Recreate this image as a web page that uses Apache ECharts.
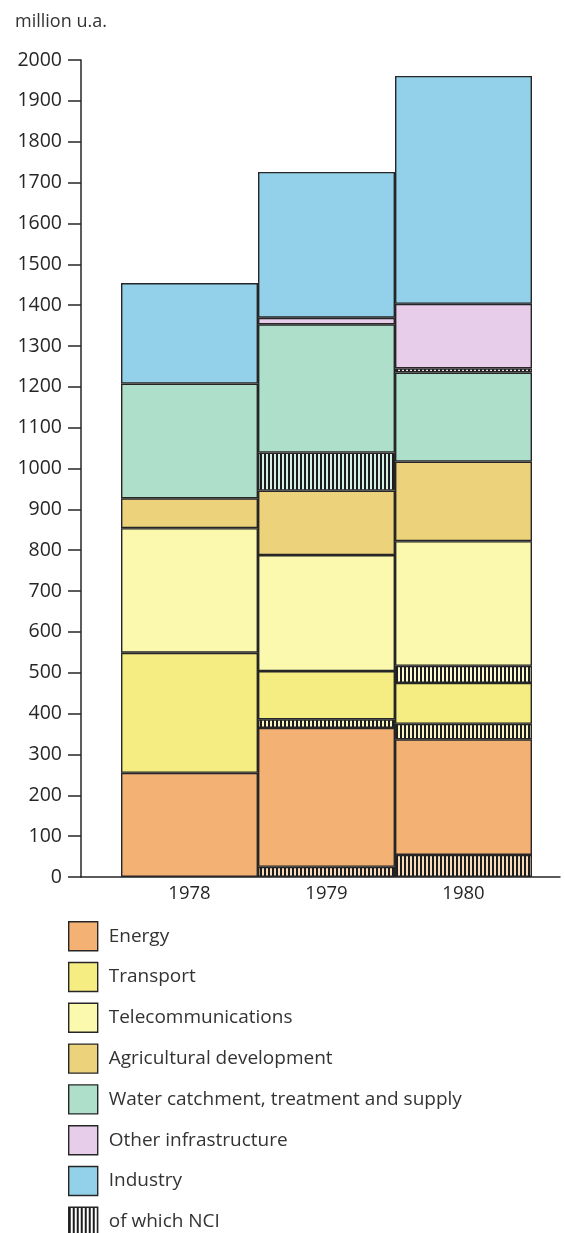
<!DOCTYPE html>
<html>
<head>
<meta charset="utf-8">
<script src="https://cdn.jsdelivr.net/npm/echarts@6/dist/echarts.min.js"></script>
<style>
  html, body { margin: 0; padding: 0; background: #ffffff; }
  #chart { width: 565px; height: 1233px; }
</style>
</head>
<body>
<div id="chart"></div>
<script>
// Lending by sector, million u.a.
const years = ['1978', '1979', '1980'];

const energy      = [255, 365, 337];
const transport   = [294, 139, 138];
const telecom     = [305, 284, 347];
const agriculture = [73, 158, 195];
const water       = [281, 407, 218];
const otherInfra  = [0, 16, 168];
const industry    = [246, 357, 558];

// NCI share of each sector (sits at the bottom of that sector's block)
const energyNCI    = [0, 25, 54];
const transportNCI = [0, 21, 38];
const telecomNCI   = [0, 0, 42];
const waterNCI     = [0, 93, 0];
const otherNCI     = [0, 0, 10];

const yTicks = { min: 0, max: 2000, step: 100 };

const COLORS = {
  energy: '#f3b274',
  transport: '#f5ed82',
  telecom: '#fbf9ae',
  agriculture: '#ecd27a',
  water: '#aedfcb',
  other: '#e7cdea',
  industry: '#93d0ea'
};
const INK = '#262626';
const FONT = '"Open Sans", "Liberation Sans", sans-serif';

function stripes(gap) {
  const c = document.createElement('canvas');
  c.width = 4; c.height = 4;
  const g = c.getContext('2d');
  g.fillStyle = gap; g.fillRect(0, 0, 4, 4);
  g.fillStyle = '#1c1c1c'; g.fillRect(0, 0, 2, 4);
  return { image: c, repeat: 'repeat' };
}

const blank = v => (v > 0 ? v : '-');
const minus = (a, b) => a.map((v, i) => blank(v - b[i]));

const NCI = 'of which NCI';
const border = { borderColor: INK, borderWidth: 1.4 };

function bar(name, data, color) {
  return {
    name, type: 'bar', stack: 'total', data,
    xAxisIndex: 0, yAxisIndex: 0,
    barWidth: '100%',
    itemStyle: Object.assign({ color }, border),
    emphasis: { disabled: true }
  };
}

const series = [
  bar(NCI, energyNCI.map(blank), stripes('#f8dcbc')),
  bar('Energy', minus(energy, energyNCI), COLORS.energy),
  bar(NCI, transportNCI.map(blank), stripes('#faf5c6')),
  bar('Transport', minus(transport, transportNCI), COLORS.transport),
  bar(NCI, telecomNCI.map(blank), stripes('#fcfad2')),
  bar('Telecommunications', minus(telecom, telecomNCI), COLORS.telecom),
  bar('Agricultural development', agriculture.map(blank), COLORS.agriculture),
  bar(NCI, waterNCI.map(blank), stripes('#d6efe6')),
  bar('Water catchment, treatment and supply', minus(water, waterNCI), COLORS.water),
  bar(NCI, otherNCI.map(blank), stripes('#f2e6f4')),
  bar('Other infrastructure', minus(otherInfra, otherNCI), COLORS.other),
  bar('Industry', industry.map(blank), COLORS.industry)
];

const chart = echarts.init(document.getElementById('chart'), null, { renderer: 'canvas' });

chart.setOption({
  animation: false,
  backgroundColor: '#ffffff',
  textStyle: { fontFamily: FONT, color: INK },
  title: {
    text: 'million u.a.',
    left: 10, top: 8,
    textStyle: { fontFamily: FONT, fontSize: 18, fontWeight: 'normal', color: '#333' }
  },
  grid: [
    { left: 121, top: 60, width: 411, height: 817, outerBoundsMode: 'none' },
    { left: 81, top: 60, right: 5, height: 817, outerBoundsMode: 'none' }
  ],
  xAxis: [
    {
      type: 'category', gridIndex: 0, data: years,
      axisLine: { show: false }, axisTick: { show: false },
      axisLabel: { fontFamily: FONT, fontSize: 18.5, color: INK, margin: 7 }
    },
    {
      type: 'category', gridIndex: 1, data: [''],
      axisLine: { show: true, lineStyle: { color: INK, width: 1.5 } },
      axisTick: { show: false }, axisLabel: { show: false }
    }
  ],
  yAxis: [
    { type: 'value', gridIndex: 0, min: yTicks.min, max: yTicks.max, show: false },
    {
      type: 'value', gridIndex: 1,
      min: yTicks.min, max: yTicks.max, interval: yTicks.step,
      axisLine: { show: true, lineStyle: { color: INK, width: 1.5 } },
      axisTick: { show: true, length: 13, lineStyle: { color: INK, width: 1.5 } },
      axisLabel: {
        fontFamily: FONT, fontSize: 19.5, color: INK, margin: 19,
        formatter: v => String(v)
      },
      splitLine: { show: false }
    }
  ],
  legend: {
    orient: 'vertical',
    left: 68, top: 921,
    height: 400,
    padding: 0,
    itemWidth: 29, itemHeight: 29, itemGap: 10.4,
    icon: 'rect',
    selectedMode: false,
    itemStyle: { borderColor: INK, borderWidth: 1.4 },
    textStyle: { fontFamily: FONT, fontSize: 19, color: '#333', padding: [0, 0, 0, 6] },
    data: [
      'Energy', 'Transport', 'Telecommunications', 'Agricultural development',
      'Water catchment, treatment and supply', 'Other infrastructure', 'Industry',
      { name: NCI, itemStyle: { color: stripes('#ffffff') } }
    ]
  },
  series
});
</script>
</body>
</html>
